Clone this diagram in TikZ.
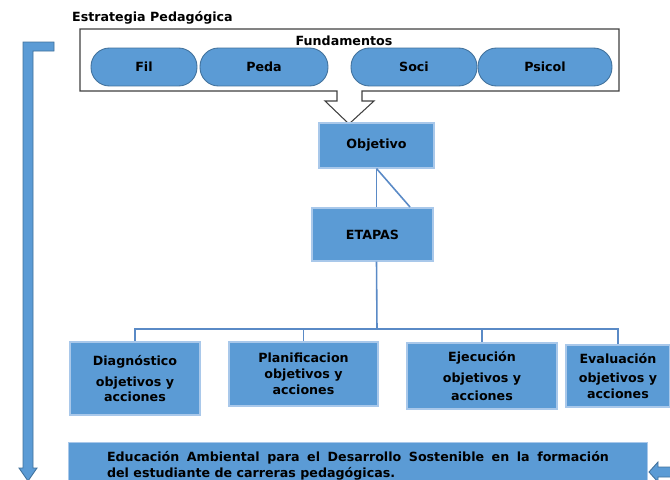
\documentclass[tikz,border=0pt]{standalone}
\usepackage{fontspec}
\setmainfont{DejaVu Sans}
\usetikzlibrary{calc}

\definecolor{azul}{HTML}{5B9BD5}
\definecolor{azulborde}{HTML}{41719C}
\definecolor{azulclaro}{HTML}{A9C8EA}
\definecolor{linea}{HTML}{5A8AC6}
\definecolor{marco}{HTML}{404040}
\newcommand{\negrita}{\fontsize{7.2}{9}\selectfont\bfseries}

\begin{document}
\begin{tikzpicture}[x=0.02cm, y=-0.02cm,
    every node/.style={font=\negrita},
    pill/.style={draw=azulborde, fill=azul, rounded corners=0.37cm, minimum height=0.76cm, line width=0.5pt},
    caja/.style={draw=azulclaro, fill=azul, line width=0.6pt, align=center},
    rama/.style={draw=linea, line width=0.9pt},
    bloque/.style={draw=azulborde, fill=azul, line width=0.5pt}]
\useasboundingbox (0,0) rectangle (670,480);
\node [anchor=west] (titulo) at (66,18) {Estrategia Pedagógica};
\draw [draw=marco, fill=white, line width=0.6pt] (80,29) -- (619,29) -- (619,91) -- (362,91) -- (362,101) -- (374,101) -- (349,124) -- (325,101) -- (337,101) -- (337,91) -- (80,91) -- cycle;
\node (fundamentos) at (344,41) {Fundamentos};
\node [pill, minimum width=2.12cm] (fil) at (144,67) {Fil};
\node [pill, minimum width=2.56cm] (peda) at (264,67) {Peda};
\node [pill, minimum width=2.52cm] (soci) at (414,67) {Soci};
\node [pill, minimum width=2.68cm] (psicol) at (545,67) {Psicol};
\node [caja, minimum width=2.3cm, minimum height=0.9cm] (objetivo) at (376.5,145.5) {Objetivo};
\node [caja, minimum width=2.42cm, minimum height=1.06cm] (etapas) at (372.5,234.5) {ETAPAS};
\coordinate (diagonal) at (410,207);
\coordinate (bus) at (377,329);
\node [caja, minimum width=2.6cm, minimum height=1.46cm] (diagnostico) at (135,378.5) {Diagnóstico\\[3pt]objetivos y\\acciones};
\node [caja, minimum width=2.98cm, minimum height=1.28cm] (planificacion) at (303.5,374) {Planificacion\\objetivos y\\acciones};
\node [caja, minimum width=3cm, minimum height=1.32cm] (ejecucion) at (482,376) {Ejecución\\[3pt]objetivos y\\[1.5pt]acciones};
\node [caja, minimum width=2.08cm, minimum height=1.24cm] (evaluacion) at (618,376) {Evaluación\\[2pt]objetivos y\\acciones};
\node [caja, minimum width=11.6cm, minimum height=0.94cm, text width=10.04cm, align=justify] (educacion) at (358,466) {Educación Ambiental para el Desarrollo Sostenible en la formación\linebreak del estudiante de carreras pedagógicas.};
\draw [rama] (objetivo.south) to (objetivo.south |- etapas.north);
\draw [rama] (objetivo.south) to (diagonal);
\draw [rama] (etapas.south -| objetivo.south) to (bus);
\draw [rama] (bus) -| (diagnostico.north);
\draw [rama] (bus) -| (planificacion.north);
\draw [rama] (bus) -| (ejecucion.north);
\draw [rama] (bus) -| (evaluacion.north);
\draw [bloque] (54,42) -- (23,42) -- (23,468) -- (19,468) -- (28,481) -- (37,468) -- (33,468) -- (33,51) -- (54,51) -- cycle;
\draw [bloque] (649,472) -- (658,462) -- (658,467) -- (672,467) -- (672,477) -- (658,477) -- (658,482) -- cycle;
\end{tikzpicture}
\end{document}
